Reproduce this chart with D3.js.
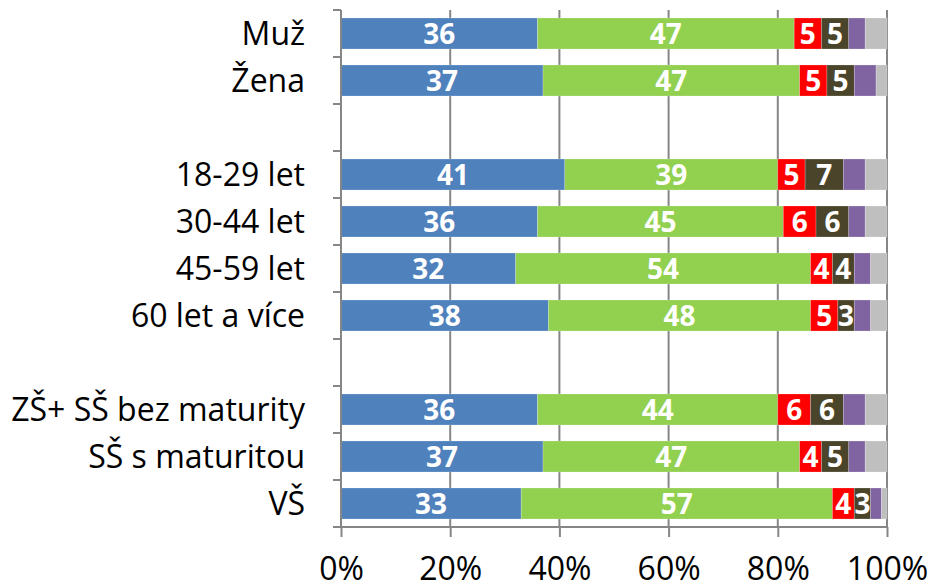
<!DOCTYPE html>
<html>
<head>
<meta charset="utf-8">
<script src="https://cdn.jsdelivr.net/npm/d3@7"></script>
<style>
  body { margin: 0; background: #fff; }
  text { font-family: "Open Sans", sans-serif; }
</style>
</head>
<body>
<div id="graf"></div>
<script>
var ancho = 932, alto = 588;
var izq = 341, der = 887, arriba = 10, abajo = 527;

// rows (empty strings = gaps between groups)
var kategorie = ["Muž", "Žena", "", "18-29 let", "30-44 let", "45-59 let", "60 let a více", "", "ZŠ+ SŠ bez maturity", "SŠ s maturitou", "VŠ"];
var modra    = [36, 37, null, 41, 36, 32, 38, null, 36, 37, 33];
var zelena   = [47, 47, null, 39, 45, 54, 48, null, 44, 47, 57];
var cervena  = [5, 5, null, 5, 6, 4, 5, null, 6, 4, 4];
var tmava    = [5, 5, null, 7, 6, 4, 3, null, 6, 5, 3];
var fialova  = [3, 4, null, 4, 3, 3, 3, null, 4, 3, 2];
var seda     = [4, 2, null, 4, 4, 3, 3, null, 4, 4, 1];
var osaTicks = [0, 20, 40, 60, 80, 100];

var serie = [
  {hodnoty: modra,   barva: "#4F81BD", popis: true},
  {hodnoty: zelena,  barva: "#92D050", popis: true},
  {hodnoty: cervena, barva: "#FF0000", popis: true},
  {hodnoty: tmava,   barva: "#4A452A", popis: true},
  {hodnoty: fialova, barva: "#8064A2", popis: false},
  {hodnoty: seda,    barva: "#BFBFBF", popis: false}
];

var svg = d3.select("#graf").append("svg")
  .attr("width", ancho)
  .attr("height", alto);

var x = d3.scaleLinear().domain([0, 100]).range([izq, der]);
var y = d3.scaleBand()
  .domain(d3.range(kategorie.length))
  .range([arriba, abajo])
  .paddingInner(0.34)
  .paddingOuter(0.17);

var krok = y.step();

// grid
svg.selectAll("line.grid")
  .data(osaTicks.slice(1))
  .enter().append("line")
  .attr("class", "grid")
  .attr("x1", function(d) { return x(d); })
  .attr("x2", function(d) { return x(d); })
  .attr("y1", arriba)
  .attr("y2", abajo)
  .attr("stroke", "#868686")
  .attr("stroke-width", 2);

// stacked bars
var segmenty = [];
kategorie.forEach(function(k, i) {
  if (modra[i] == null) return;
  var zac = 0;
  serie.forEach(function(s) {
    var v = s.hodnoty[i];
    segmenty.push({i: i, od: zac, do: zac + v, v: v, barva: s.barva, popis: s.popis});
    zac += v;
  });
});

svg.selectAll("rect.seg")
  .data(segmenty)
  .enter().append("rect")
  .attr("class", "seg")
  .attr("x", function(d) { return x(d.od); })
  .attr("y", function(d) { return y(d.i); })
  .attr("width", function(d) { return x(d.do) - x(d.od); })
  .attr("height", y.bandwidth())
  .attr("fill", function(d) { return d.barva; })
  .attr("stroke", "#ffffff")
  .attr("stroke-opacity", 0.35)
  .attr("stroke-width", 0.6);

svg.selectAll("text.hod")
  .data(segmenty.filter(function(d) { return d.popis; }))
  .enter().append("text")
  .attr("class", "hod")
  .attr("x", function(d) { return (x(d.od) + x(d.do)) / 2; })
  .attr("y", function(d) { return y(d.i) + y.bandwidth() / 2; })
  .attr("dy", "0.36em")
  .attr("text-anchor", "middle")
  .attr("font-size", "28px")
  .attr("font-weight", "bold")
  .attr("fill", "white")
  .text(function(d) { return d.v; });

// left axis line + ticks at row boundaries
svg.append("line")
  .attr("x1", izq).attr("x2", izq)
  .attr("y1", arriba).attr("y2", abajo)
  .attr("stroke", "#868686").attr("stroke-width", 2);

svg.selectAll("line.ltick")
  .data(d3.range(kategorie.length + 1))
  .enter().append("line")
  .attr("class", "ltick")
  .attr("x1", izq - 8).attr("x2", izq)
  .attr("y1", function(d) { return arriba + d * krok; })
  .attr("y2", function(d) { return arriba + d * krok; })
  .attr("stroke", "#868686").attr("stroke-width", 2);

svg.selectAll("text.kat")
  .data(kategorie)
  .enter().append("text")
  .attr("class", "kat")
  .attr("x", 305)
  .attr("y", function(d, i) { return y(i) + y.bandwidth() / 2; })
  .attr("dy", "0.36em")
  .attr("text-anchor", "end")
  .attr("font-size", "32px")
  .attr("fill", "#000")
  .text(function(d) { return d; });

// bottom axis
var osaX = d3.axisBottom(x)
  .tickValues(osaTicks)
  .tickSize(10)
  .tickPadding(20)
  .tickFormat(function(d) { return d + "%"; });

var g = svg.append("g")
  .attr("transform", "translate(0," + abajo + ")")
  .call(osaX);
g.select(".domain").attr("stroke", "#868686").attr("stroke-width", 2)
  .attr("d", "M" + (izq - 8) + ",0H" + der);
g.selectAll(".tick line").attr("stroke", "#868686").attr("stroke-width", 2);
g.selectAll(".tick text")
  .attr("font-size", "32px")
  .attr("font-family", "Open Sans, sans-serif")
  .attr("fill", "#000");
</script>
</body>
</html>
